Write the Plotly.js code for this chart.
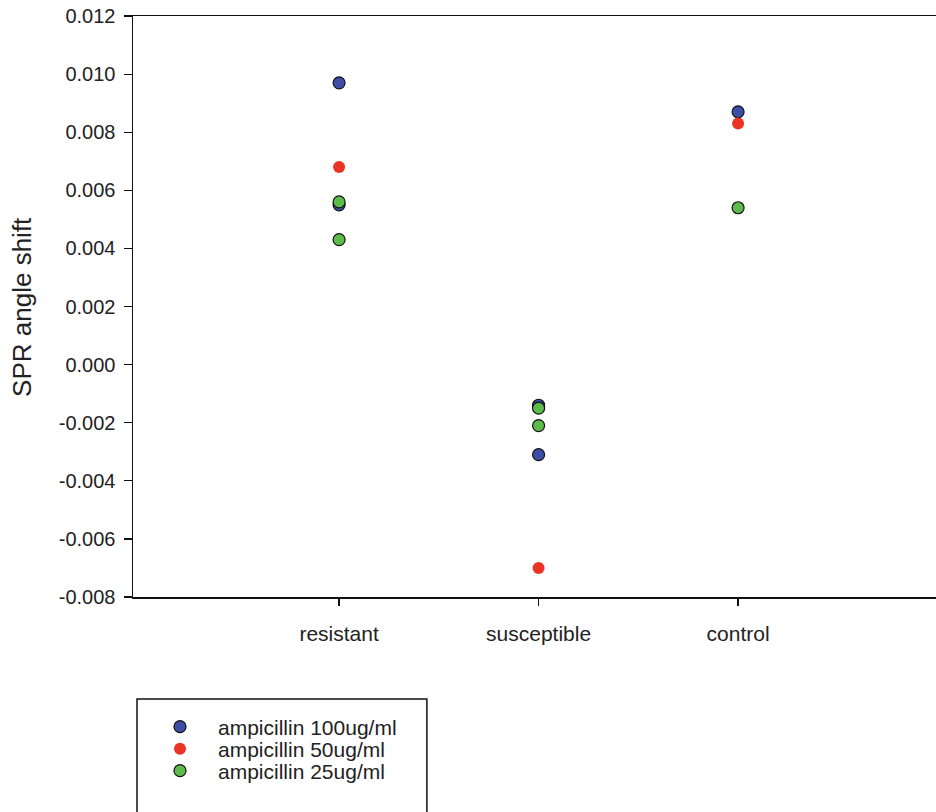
<!DOCTYPE html>
<html><head><meta charset="utf-8">
<script src="https://cdn.plot.ly/plotly-3.0.1.min.js"></script>
<style>html,body{margin:0;padding:0;background:#fff;}#chart{width:936px;height:812px;}</style>
</head><body><div id="chart"></div>
<script>
const categories = ["resistant", "susceptible", "control"];
const seriesNames = ["ampicillin 100ug/ml", "ampicillin 50ug/ml", "ampicillin 25ug/ml"];
const blueX = ["resistant", "resistant", "susceptible", "susceptible", "control"];
const blueY = [0.0097, 0.0055, -0.0014, -0.0031, 0.0087];
const redX = ["resistant", "susceptible", "control"];
const redY = [0.0068, -0.0070, 0.0083];
const greenX = ["resistant", "resistant", "susceptible", "susceptible", "control"];
const greenY = [0.0056, 0.0043, -0.0015, -0.0021, 0.0054];
const yTickVals = [0.012, 0.010, 0.008, 0.006, 0.004, 0.002, 0.000, -0.002, -0.004, -0.006, -0.008];
const yTickText = ["0.012", "0.010", "0.008", "0.006", "0.004", "0.002", "0.000", "-0.002", "-0.004", "-0.006", "-0.008"];

const font = "Liberation Sans, Arial, sans-serif";
function tr(x, y, name, color, lineW, leg) {
  return {x: x, y: y, name: name, type: "scatter", mode: "markers", legend: leg,
    marker: {size: 12, color: color, line: {color: "#111", width: lineW}}};
}
const data = [
  tr(blueX, blueY, seriesNames[0], "#3c4ea6", 1.2, "legend"),
  tr(redX, redY, seriesNames[1], "#ea3323", 0, "legend2"),
  tr(greenX, greenY, seriesNames[2], "#5cbb4a", 1.2, "legend3")
];
function leg(y) {
  return {x: 0.0112, y: y, xanchor: "left", yanchor: "middle",
    bgcolor: "rgba(0,0,0,0)", borderwidth: 0, itemwidth: 66,
    font: {size: 21, family: font, color: "#222"}};
}
const layout = {
  width: 936, height: 812,
  margin: {l: 133, r: 0, t: 16, b: 215},
  paper_bgcolor: "#fff", plot_bgcolor: "#fff",
  font: {family: font, size: 20, color: "#222"},
  showlegend: true,
  xaxis: {type: "category", categoryorder: "array", categoryarray: categories,
    range: [-1.033, 2.992], showgrid: false, zeroline: false,
    showline: true, linecolor: "#111", linewidth: 1.5, mirror: true,
    ticks: "outside", ticklen: 7, tickwidth: 1.2, tickcolor: "#111",
    ticklabelstandoff: 10, tickfont: {size: 21, family: font, color: "#222"}},
  yaxis: {range: [-0.008, 0.012], showgrid: false, zeroline: false,
    showline: true, linecolor: "#111", linewidth: 1.5,
    ticks: "outside", ticklen: 8, tickwidth: 1.2, tickcolor: "#111",
    tickmode: "array", tickvals: yTickVals, ticktext: yTickText,
    ticklabelstandoff: 4, tickfont: {size: 20, family: font, color: "#222"}},
  legend: leg(-0.2238),
  legend2: leg(-0.2616),
  legend3: leg(-0.2995),
  annotations: [{text: "SPR angle shift", xref: "paper", yref: "paper",
    x: -0.139, y: 0.5, xanchor: "center", yanchor: "middle", textangle: -90,
    showarrow: false, font: {size: 26, family: font, color: "#222"}}],
  shapes: [{type: "rect", xref: "paper", yref: "paper",
    x0: 0.005, x1: 0.366, y0: -0.1756, y1: -0.45,
    line: {color: "#111", width: 1.5}, fillcolor: "rgba(0,0,0,0)"}]
};
Plotly.newPlot("chart", data, layout, {displayModeBar: false, staticPlot: true});
</script></body></html>
